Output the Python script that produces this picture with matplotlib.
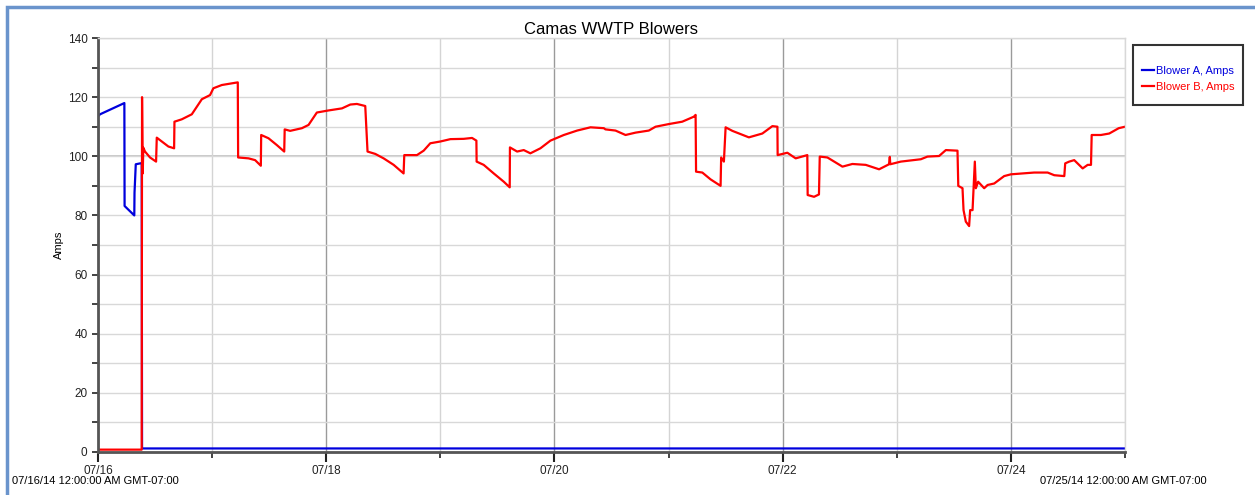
import matplotlib
matplotlib.use("Agg")
import matplotlib.pyplot as plt
import matplotlib.dates as mdates
from matplotlib.patches import Rectangle
import numpy as np
import datetime as dt

plt.rcParams['font.family'] = ['Liberation Sans', 'DejaVu Sans']

start = dt.datetime(2014, 7, 16)

# days since 07/16 00:00 and amps
blower_a_days = [0, 0.018, 0.231, 0.233, 0.318, 0.320, 0.331, 0.383, 0.386, 9.0]
blower_a_amps = [113.5, 114.2, 118, 83.2, 80, 87.7, 97.3, 97.7, 1.2, 1.2]

blower_b_days = [0, 0.383, 0.386, 0.392, 0.397, 0.412, 0.456, 0.509, 0.515, 0.559,
                 0.617, 0.667, 0.670, 0.734, 0.822, 0.851, 0.910, 0.982, 1.011, 1.085,
                 1.225, 1.228, 1.319, 1.377, 1.427, 1.430, 1.494, 1.567, 1.632, 1.636,
                 1.684, 1.787, 1.845, 1.918, 2.020, 2.138, 2.211, 2.269, 2.342, 2.362,
                 2.430, 2.503, 2.591, 2.678, 2.684, 2.795, 2.854, 2.912, 3.0, 3.088,
                 3.205, 3.278, 3.316, 3.318, 3.380, 3.468, 3.556, 3.608, 3.610, 3.673,
                 3.731, 3.789, 3.877, 3.965, 4.082, 4.199, 4.316, 4.433, 4.447, 4.535,
                 4.623, 4.711, 4.827, 4.886, 5.003, 5.120, 5.222, 5.237, 5.241, 5.296,
                 5.368, 5.456, 5.461, 5.485, 5.5, 5.559, 5.704, 5.822, 5.910, 5.954,
                 5.956, 6.041, 6.114, 6.216, 6.219, 6.275, 6.318, 6.325, 6.392, 6.524,
                 6.611, 6.728, 6.845, 6.932, 6.939, 6.943, 7.035, 7.211, 7.269, 7.371,
                 7.430, 7.532, 7.539, 7.576, 7.585, 7.605, 7.634, 7.643, 7.664, 7.684,
                 7.693, 7.713, 7.766, 7.796, 7.854, 7.941, 8.0, 8.204, 8.322, 8.380,
                 8.468, 8.476, 8.511, 8.555, 8.629, 8.673, 8.702, 8.708, 8.789, 8.862,
                 8.945, 9.0]
blower_b_amps = [0.8, 0.8, 120, 94.2, 102.9, 101.6, 99.6, 98.2, 106.3, 105,
                 103.3, 102.7, 111.7, 112.5, 114.2, 115.9, 119.3, 120.7, 123, 124.1,
                 125, 99.6, 99.3, 98.7, 96.8, 107.2, 106.1, 103.8, 101.6, 109.1,
                 108.6, 109.5, 110.6, 114.8, 115.5, 116.2, 117.5, 117.7, 117, 101.6,
                 100.8, 99.3, 97.1, 94.2, 100.4, 100.4, 101.9, 104.4, 105, 105.8,
                 105.9, 106.2, 105.3, 98.2, 97.1, 94.2, 91.4, 89.5, 103, 101.6,
                 102.1, 101, 102.7, 105.3, 107.2, 108.7, 109.8, 109.5, 109.1, 108.7,
                 107.2, 108, 108.7, 110, 110.9, 111.7, 113.4, 114, 94.8, 94.5,
                 92.2, 90, 99.6, 98.2, 109.8, 108.6, 106.4, 107.7, 110.2, 110,
                 100.4, 101.2, 99.3, 100.4, 86.9, 86.3, 87.1, 99.9, 99.6, 96.5,
                 97.4, 97.1, 95.6, 97.3, 99.8, 97.3, 98.2, 99, 99.9, 100.1,
                 102.1, 101.9, 90, 89.2, 81.8, 77.9, 76.4, 81.8, 81.8, 98.2,
                 89.2, 91.4, 89.2, 90.3, 90.8, 93.3, 93.9, 94.5, 94.5, 93.6,
                 93.3, 97.6, 98.2, 98.7, 95.9, 97.1, 97.1, 107.2, 107.2, 107.7,
                 109.5, 110]

major_days = [0, 2, 4, 6, 8]
minor_days = [0, 1, 2, 3, 4, 5, 6, 7, 8, 9]

t_a = [start + dt.timedelta(days=d) for d in blower_a_days]
t_b = [start + dt.timedelta(days=d) for d in blower_b_days]

fig = plt.figure(figsize=(12.55, 4.95), dpi=100)
ax = fig.add_axes([98 / 1255, 43 / 495, 1027 / 1255, 414 / 495])

ax.plot(t_a, blower_a_amps, color='#0000dd', lw=1.6, label='Blower A, Amps')
ax.plot(t_b, blower_b_amps, color='#ff0000', lw=1.6, label='Blower B, Amps')

ax.set_xlim(start, start + dt.timedelta(days=9))
ax.set_ylim(0, 140)

ax.set_xticks([start + dt.timedelta(days=d) for d in major_days])
ax.set_xticks([start + dt.timedelta(days=d) for d in minor_days], minor=True)
ax.xaxis.set_major_formatter(mdates.DateFormatter('%m/%d'))
ax.set_yticks(np.arange(0, 141, 20))
ax.set_yticks(np.arange(0, 141, 10), minor=True)

ax.grid(which='major', axis='x', color='#9a9a9a', lw=1)
ax.grid(which='minor', axis='x', color='#d4d4d4', lw=1)
ax.grid(which='both', axis='y', color='#d8d8d8', lw=1)
ax.axhline(100, color='#bdbdbd', lw=1.2, zorder=0.5)
ax.set_axisbelow(True)

ax.tick_params(axis='both', which='major', labelsize=8.5, colors='#222222', direction='out')
ax.tick_params(axis='x', which='major', length=7, width=1.5, pad=2)
ax.tick_params(axis='x', which='minor', length=4, width=1.2, color='#222222')
ax.tick_params(axis='y', which='both', length=4, width=1.2, color='#222222')
for s in ('left', 'bottom'):
    ax.spines[s].set_color('#555555')
    ax.spines[s].set_linewidth(2)
for s in ('top', 'right'):
    ax.spines[s].set_color('#d8d8d8')
    ax.spines[s].set_linewidth(1)

ax.set_ylabel('Amps', fontsize=8, labelpad=3)
ax.set_title('Camas WWTP Blowers', fontsize=12, pad=3)

fig.text(12 / 1255, 1 - 481 / 495, '07/16/14 12:00:00 AM GMT-07:00', fontsize=8,
         va='center', ha='left')
fig.text(1040 / 1255, 1 - 481 / 495, '07/25/14 12:00:00 AM GMT-07:00', fontsize=8,
         va='center', ha='left')

leg = fig.legend(loc='upper left', bbox_to_anchor=(1136 / 1255, 1 - 60 / 495),
                 fontsize=8, frameon=False, handlelength=1.1,
                 handletextpad=0.2, borderpad=0, labelcolor='linecolor',
                 labelspacing=0.6)
fig.patches.append(Rectangle((1133 / 1255, 1 - 105 / 495), 110 / 1255, 60 / 495,
                             transform=fig.transFigure, fill=False,
                             edgecolor='#333333', lw=1.5))

fig.patches.append(Rectangle((7 / 1255, -0.05), 1.1, 1 - 7 / 495 + 0.05,
                             transform=fig.transFigure, fill=False,
                             edgecolor='#6a94cc', lw=2.5))

fig.savefig('out.png', dpi=100)
